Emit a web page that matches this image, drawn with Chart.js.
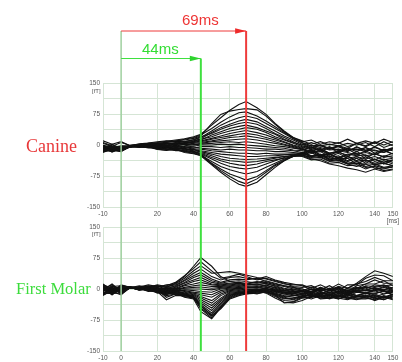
<!DOCTYPE html>
<html><head><meta charset="utf-8">
<script src="https://cdn.jsdelivr.net/npm/chart.js@4/dist/chart.umd.min.js"></script>
<style>
html,body{margin:0;padding:0;background:#fff;width:402px;height:362px;overflow:hidden;position:relative}
canvas{position:absolute;left:0}
#c1{top:0}
#c2{top:220px}
#ov{top:0;pointer-events:none}
.lbl{position:absolute;white-space:nowrap;line-height:1}
</style>
</head><body>
<canvas id="c1" width="402" height="232"></canvas>
<canvas id="c2" width="402" height="142"></canvas>
<canvas id="ov" width="402" height="362"></canvas>
<div class="lbl" style="left:26px;top:136px;font:18px 'Liberation Serif',serif;color:#e8393a">Canine</div>
<div class="lbl" style="left:16px;top:279px;font:16.5px 'Liberation Serif',serif;color:#3cdc3c">First Molar</div>
<div class="lbl" style="left:182px;top:11px;font:15px 'Liberation Sans',Arial,sans-serif;color:#ee3434">69ms</div>
<div class="lbl" style="left:142px;top:40px;font:15px 'Liberation Sans',Arial,sans-serif;color:#33dd33">44ms</div>
<div class="lbl" style="left:92px;top:88px;font:6px 'Liberation Sans',Arial,sans-serif;color:#555">[fT]</div>
<div class="lbl" style="left:92px;top:231px;font:6px 'Liberation Sans',Arial,sans-serif;color:#555">[fT]</div>
<script>
// time axis (ms)
const timeMs = [-10,-5,0,5,10,15,20,25,30,35,40,44,50,55,60,65,69,75,80,85,90,95,100,105,110,115,120,125,130,135,140,145,150];
const xTickValues = [-10,0,20,40,60,80,100,120,140,150];
const yTickValues = [-150,-112.5,-75,-37.5,0,37.5,75,112.5,150];
const markerLatencies = {start:0, molar:44, canine:69};

// Canine traces (fT)
const c01 = [4,-3,6,-1,2,4,6,9,12,15,20,26,48,66,84,98,105,90,74,52,34,18,10,2,8,0,6,-4,4,-2,8,0,8];
const c02 = [-8,2,-9,-3,0,3,5,6,10,12,16,22,52,74,82,86,88,85,70,50,32,16,6,-2,0,-8,-2,-8,4,-4,6,-6,2];
const c03 = [10,2,8,-2,3,5,8,10,9,14,18,24,40,55,68,78,80,70,58,44,30,18,8,12,2,8,4,14,4,10,4,14,6];
const c04 = [-6,-14,-4,-3,-1,2,4,3,6,8,12,18,34,48,58,66,70,64,52,40,28,15,5,-6,-2,-10,-4,-14,-6,-12,-6,-14,-8];
const c05 = [-16,-6,-14,-4,-2,0,2,5,4,9,10,15,30,42,50,58,62,56,45,34,22,12,2,-8,0,-10,-2,-12,-10,-16,-4,-14,-6];
const c06 = [6,-2,-8,-1,1,4,3,7,9,8,13,20,28,38,46,52,55,50,40,28,18,8,-2,-10,-6,-12,-10,-16,-4,-14,-12,-18,-10];
const c07 = [-14,-8,-10,-4,-3,-1,1,0,4,6,8,12,24,32,40,45,48,42,34,26,14,6,0,6,-2,2,-2,4,0,6,-4,8,-2];
const c08 = [-2,-12,-10,-2,0,2,0,4,2,5,9,14,20,28,34,38,42,38,30,20,12,4,-4,-12,-10,-20,-14,-18,-24,-14,-24,-14,-22];
const c09 = [-9,-4,-12,-3,-2,1,-1,2,5,3,6,10,16,22,28,32,35,30,24,16,8,0,-6,0,-12,-4,-14,-8,-16,-6,-14,-18,-8];
const c10 = [-2,-8,-3,-2,0,3,2,5,1,4,7,8,14,18,22,26,28,24,18,12,6,-2,-8,-16,-8,-20,-16,-28,-16,-26,-22,-28,-20];
const c11 = [-16,-12,-6,-4,-2,-3,0,-2,3,1,4,6,10,14,18,20,22,18,14,8,2,-4,-10,-18,-14,-20,-18,-24,-20,-32,-20,-30,-26];
const c12 = [-7,-3,-11,-3,-1,0,2,-1,-3,2,0,4,8,10,12,14,15,12,8,4,0,-6,-12,-4,-16,-6,-18,-8,-12,-6,-20,-10,-14];
const c13 = [-10,-14,-5,-2,-3,1,-2,0,-4,-2,1,2,4,6,8,6,8,5,2,-2,-4,-8,-10,-20,-16,-28,-20,-32,-28,-34,-28,-36,-32];
const c14 = [-4,-9,-13,-3,0,-1,-3,-4,-1,-5,-3,0,0,2,1,2,0,-2,-4,-6,-8,-12,-14,-20,-12,-24,-16,-10,-22,-18,-24,-12,-22];
const c15 = [-13,-6,-9,-4,-2,-4,-5,-3,-6,-4,-8,-4,-4,-6,-4,-6,-6,-8,-10,-10,-12,-14,-18,-26,-22,-34,-30,-40,-32,-44,-34,-46,-36];
const c16 = [-1,-5,-7,-2,-1,-3,-2,-6,-3,-8,-5,-8,-10,-12,-10,-12,-12,-14,-14,-16,-16,-18,-20,-12,-24,-22,-32,-22,-26,-24,-36,-26,-30];
const c17 = [-15,-11,-4,-5,-3,-5,-7,-5,-9,-6,-10,-10,-14,-16,-18,-20,-20,-22,-20,-22,-22,-22,-24,-32,-30,-40,-38,-46,-44,-46,-46,-44,-50];
const c18 = [-8,-13,-16,-3,-4,-2,-6,-8,-7,-10,-12,-14,-18,-22,-24,-26,-28,-28,-26,-26,-24,-22,-20,-28,-24,-36,-32,-44,-40,-52,-46,-54,-50];
const c19 = [-11,-7,-2,-4,-5,-6,-4,-9,-11,-8,-14,-16,-22,-28,-32,-34,-35,-34,-32,-30,-28,-26,-24,-18,-30,-26,-38,-28,-40,-36,-44,-38,-46];
const c20 = [-3,-15,-10,-4,-2,-4,-8,-7,-5,-12,-10,-18,-26,-34,-38,-40,-42,-40,-36,-32,-28,-26,-28,-36,-34,-44,-42,-50,-48,-58,-50,-56,-54];
const c21 = [-18,-9,-12,-5,-3,-7,-5,-10,-12,-14,-16,-20,-30,-38,-44,-48,-50,-46,-40,-36,-32,-28,-24,-30,-28,-38,-36,-46,-52,-46,-56,-58,-52];
const c22 = [-6,-11,-15,-3,-6,-4,-9,-6,-10,-9,-15,-22,-34,-44,-52,-56,-58,-54,-46,-38,-30,-24,-20,-28,-24,-30,-26,-38,-28,-40,-34,-42,-36];
const c23 = [-12,-16,-7,-4,-4,-5,-8,-11,-13,-15,-18,-24,-40,-52,-60,-66,-70,-64,-54,-44,-34,-28,-26,-34,-38,-46,-50,-56,-60,-66,-58,-64,-60];
const c24 = [-9,-5,-14,-5,-2,-6,-10,-12,-8,-16,-20,-25,-44,-58,-70,-78,-85,-76,-62,-48,-36,-26,-22,-14,-28,-22,-30,-26,-38,-28,-40,-34,-42];
const c25 = [-14,-10,-3,-4,-5,-3,-6,-4,-14,-12,-17,-22,-46,-62,-76,-88,-94,-82,-66,-50,-38,-28,-20,-12,-24,-20,-34,-32,-46,-36,-48,-44,-50];
const c26 = [-5,-17,-8,-3,-3,-2,-11,-13,-10,-18,-21,-26,-48,-66,-82,-95,-100,-90,-72,-54,-38,-26,-18,-26,-24,-34,-34,-44,-44,-54,-52,-62,-58];

// First molar traces (fT)
const m01 = [-2,-8,5,2,4,6,8,4,14,30,55,76,55,30,18,14,12,16,20,14,8,4,0,-6,4,-4,6,2,14,30,44,38,30];
const m02 = [6,-4,-6,3,6,2,5,8,16,32,50,66,44,26,30,36,30,22,26,20,14,6,4,8,-2,8,-4,10,10,26,34,32,20];
const m03 = [-8,-12,2,4,2,8,4,10,12,26,44,56,38,40,42,38,34,28,24,18,12,10,10,2,10,0,12,2,12,18,28,20,20];
const m04 = [10,2,-10,3,8,4,10,6,10,22,38,48,30,22,28,30,26,24,30,22,16,12,8,-2,2,-2,6,-6,8,12,22,14,14];
const m05 = [-14,-6,8,4,0,6,2,0,8,20,32,40,24,16,22,24,22,26,18,12,8,4,-4,4,-6,2,-8,2,2,12,12,20,8];
const m06 = [4,-10,-3,3,5,10,6,4,6,16,28,34,20,14,18,20,18,14,16,10,6,0,-6,0,-4,-2,-8,-2,-4,8,6,10,2];
const m07 = [-6,8,-8,4,3,2,8,-2,4,14,22,28,16,12,14,16,14,18,12,8,2,-2,-4,-10,0,-10,-6,-12,4,0,10,8,10];
const m08 = [-10,-2,6,5,-2,6,-2,2,2,10,18,22,12,10,12,14,12,10,14,6,0,-4,-8,0,-12,-4,-2,-10,0,4,2,-2,4];
const m09 = [8,-14,0,4,1,-4,4,-6,0,8,12,16,10,8,10,12,10,12,8,4,-2,-6,-12,-8,-6,-14,-6,-12,-4,-2,2,-6,-4];
const m10 = [-4,4,-12,3,4,0,-4,2,-2,4,8,10,6,6,8,10,8,6,10,2,-4,-8,-4,-12,-12,-8,-16,-6,-6,-4,-4,4,-4];
const m11 = [2,-6,4,4,-1,3,0,-8,-4,2,4,5,2,4,6,8,6,8,4,0,-6,-10,-14,-6,-14,-18,-10,-18,-8,-10,-4,-12,-6];
const m12 = [-12,6,-4,5,2,-2,-6,-4,2,0,0,0,-2,2,4,6,4,2,6,-2,-8,-12,-6,-16,-16,-12,-20,-10,-16,-10,-12,-4,-14];
const m13 = [6,-8,10,4,0,4,-3,-10,-6,-2,-4,-6,-8,0,2,4,2,4,0,-4,-10,-14,-18,-10,-18,-22,-14,-22,-16,-18,-12,-20,-12];
const m14 = [-6,2,-8,3,3,-4,2,-2,-4,-4,-8,-10,-14,-4,0,2,0,-2,2,-6,-12,-16,-10,-20,-18,-16,-24,-14,-22,-20,-16,-22,-14];
const m15 = [12,-4,-2,4,-2,2,-6,-14,-2,-6,-10,-14,-20,-8,-2,0,-2,0,-4,-10,-16,-20,-20,-12,-24,-22,-18,-20,-24,-24,-20,-26,-18];
const m16 = [-8,-12,4,5,1,-3,-2,-6,-8,-8,-12,-18,-28,-12,-4,-2,-4,-6,-2,-12,-20,-24,-18,-24,-16,-24,-16,-24,-16,-22,-26,-18,-24];
const m17 = [0,10,-6,4,-3,0,-8,-4,-4,-10,-14,-22,-34,-16,-6,-4,-6,-2,-6,-14,-22,-26,-20,-14,-22,-14,-22,-26,-18,-16,-22,-26,-16];
const m18 = [-16,-2,2,3,2,-6,-4,-12,-10,-12,-16,-26,-40,-22,-8,-6,-8,-10,-8,-18,-28,-30,-20,-20,-12,-20,-24,-16,-18,-18,-28,-20,-26];
const m19 = [2,-10,-10,4,-1,1,-10,-8,-6,-12,-18,-30,-46,-26,-10,-8,-6,-4,-10,-22,-32,-34,-28,-18,-18,-22,-14,-22,-26,-20,-16,-22,-12];
const m20 = [-4,6,8,5,3,-2,-6,-16,-12,-14,-20,-34,-52,-30,-12,-10,-8,-12,-6,-16,-24,-22,-16,-16,-20,-12,-20,-12,-20,-14,-24,-16,-22];
const m21 = [10,-6,-14,4,0,2,-4,-6,-14,-16,-20,-38,-58,-34,-14,-12,-10,-6,-8,-12,-18,-16,-14,-18,-10,-12,-12,-8,-16,-10,-18,-12,-8];
const m22 = [-10,0,0,3,2,-4,-8,-10,-8,-18,-22,-42,-62,-38,-16,-8,-12,-8,-4,-8,-12,-10,-6,-14,-6,-14,-6,-8,-8,-10,-10,-6,-14];
const m23 = [4,-14,6,4,-2,0,-2,-20,-12,-14,-22,-46,-66,-42,-18,-10,-8,-4,-2,-4,-8,-6,-6,-6,-2,-8,0,-8,-2,-4,-4,0,-6];
const m24 = [-14,4,-10,5,3,-3,-6,-26,-16,-16,-20,-48,-70,-44,-20,-12,-6,-2,0,-2,-4,0,0,-6,0,-2,4,-4,2,6,-2,6,-2];
const m25 = [8,-8,2,4,1,1,-4,-12,-10,-20,-24,-55,-72,-46,-22,-14,-10,-6,-4,-6,-8,-10,-4,-10,4,-4,2,-6,4,-4,4,8,0];
const m26 = [-2,12,-6,3,-1,-2,-8,-8,-6,-12,-18,-40,-64,-48,-24,-16,-12,-10,-6,-14,-34,-32,-22,-20,-8,-16,-6,-14,-4,-10,-2,-4,-8];

const canineSeries = [c01,c02,c03,c04,c05,c06,c07,c08,c09,c10,c11,c12,c13,c14,c15,c16,c17,c18,c19,c20,c21,c22,c23,c24,c25,c26];
const molarSeries = [m01,m02,m03,m04,m05,m06,m07,m08,m09,m10,m11,m12,m13,m14,m15,m16,m17,m18,m19,m20,m21,m22,m23,m24,m25,m26];

const GRID = '#d5e5d5';
const TICKFONT = {family:"'Liberation Sans', Arial, sans-serif", size:6.5};

function makeDatasets(series){
  return series.map(s => ({
    data: s.map((v,i)=>({x:timeMs[i], y:v})),
    borderColor:'#111', borderWidth:1.1, pointRadius:0, tension:0, fill:false
  }));
}

function makeOptions(showZero, padTop, xAxisHeight){
  return {
    responsive:false, animation:false, events:[],
    layout:{padding:{top:padTop, right:9, left:0, bottom:0}},
    plugins:{legend:{display:false}, tooltip:{enabled:false}},
    scales:{
      x:{type:'linear', min:-10, max:150,
        afterBuildTicks: s => { s.ticks = xTickValues.map(v=>({value:v})); },
        afterFit: s => { s.height = xAxisHeight; },
        grid:{color:GRID, drawTicks:false, lineWidth:1},
        border:{color:GRID},
        ticks:{autoSkip:false, maxRotation:0, padding:3, color:'#555', font:TICKFONT,
          callback: v => v===150 ? ['150','[ms]'] : (v===0 && !showZero ? '' : String(v))}
      },
      y:{min:-150, max:150,
        afterBuildTicks: s => { s.ticks = yTickValues.map(v=>({value:v})); },
        afterFit: s => { s.width = 103; },
        grid:{color:GRID, drawTicks:false, lineWidth:1},
        border:{color:GRID},
        ticks:{padding:3, color:'#555', font:TICKFONT,
          callback: v => (v % 75 === 0) ? String(v) : ''}
      }
    }
  };
}

const chart1 = new Chart(document.getElementById('c1'), {
  type:'line', data:{datasets:makeDatasets(canineSeries)}, options:makeOptions(false, 83, 25)
});
const chart2 = new Chart(document.getElementById('c2'), {
  type:'line', data:{datasets:makeDatasets(molarSeries)}, options:makeOptions(true, 7, 11)
});

function drawOverlay(){
  const ctx = document.getElementById('ov').getContext('2d');
  ctx.clearRect(0,0,402,362);
  const xs = chart1.scales.x;
  const x0 = xs.getPixelForValue(markerLatencies.start);
  const xg = xs.getPixelForValue(markerLatencies.molar);
  const xr = xs.getPixelForValue(markerLatencies.canine);
  const bottom = 220 + chart2.chartArea.bottom;
  const yRed = 31, yGreen = 58.5;
  ctx.strokeStyle = '#9fd09f'; ctx.lineWidth = 1.5;
  ctx.beginPath(); ctx.moveTo(x0, yRed); ctx.lineTo(x0, bottom); ctx.stroke();
  ctx.strokeStyle = '#ee3b3b'; ctx.lineWidth = 2;
  ctx.beginPath(); ctx.moveTo(xr, yRed); ctx.lineTo(xr, bottom); ctx.stroke();
  ctx.lineWidth = 1;
  ctx.beginPath(); ctx.moveTo(x0, yRed); ctx.lineTo(xr, yRed); ctx.stroke();
  ctx.fillStyle = '#ee2b2b';
  ctx.beginPath(); ctx.moveTo(xr, yRed); ctx.lineTo(xr-11, yRed-2.8); ctx.lineTo(xr-11, yRed+2.8); ctx.closePath(); ctx.fill();
  ctx.strokeStyle = '#3fe03f'; ctx.lineWidth = 2;
  ctx.beginPath(); ctx.moveTo(xg, yGreen); ctx.lineTo(xg, bottom); ctx.stroke();
  ctx.lineWidth = 1;
  ctx.beginPath(); ctx.moveTo(x0, yGreen); ctx.lineTo(xg, yGreen); ctx.stroke();
  ctx.fillStyle = '#2fd42f';
  ctx.beginPath(); ctx.moveTo(xg, yGreen); ctx.lineTo(xg-11, yGreen-2.8); ctx.lineTo(xg-11, yGreen+2.8); ctx.closePath(); ctx.fill();
}
drawOverlay();
</script>
</body></html>
